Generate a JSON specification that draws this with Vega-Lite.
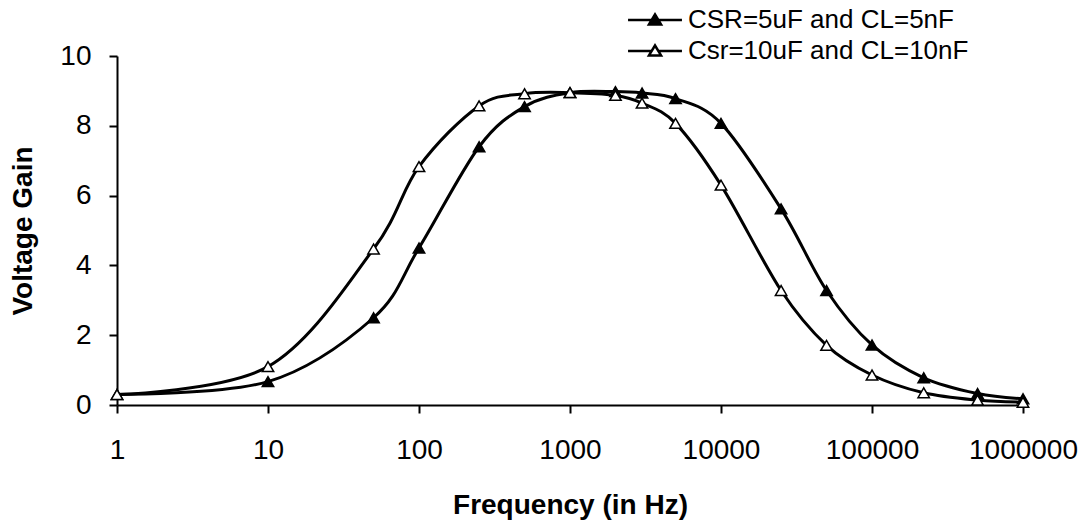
{
  "$schema": "https://vega.github.io/schema/vega-lite/v6.json",
  "width": 906,
  "height": 349,
  "autosize": "none",
  "padding": {"left": 117, "top": 56, "right": 61, "bottom": 115},
  "background": "white",
  "config": {
    "view": {"stroke": null},
    "font": "Liberation Sans",
    "axis": {
      "domainColor": "black",
      "domainWidth": 2,
      "tickColor": "black",
      "tickWidth": 2,
      "tickSize": 8,
      "grid": false,
      "labelColor": "black",
      "labelFont": "Liberation Sans",
      "labelFontSize": 28,
      "titleColor": "black",
      "titleFont": "Liberation Sans",
      "titleFontSize": 28,
      "titleFontWeight": "bold"
    }
  },
  "data": {
    "values": [
      {"freq": 1, "gain": 0.3, "series": "CSR=5uF and CL=5nF"},
      {"freq": 10, "gain": 0.67, "series": "CSR=5uF and CL=5nF"},
      {"freq": 50, "gain": 2.5, "series": "CSR=5uF and CL=5nF"},
      {"freq": 100, "gain": 4.5, "series": "CSR=5uF and CL=5nF"},
      {"freq": 250, "gain": 7.4, "series": "CSR=5uF and CL=5nF"},
      {"freq": 500, "gain": 8.55, "series": "CSR=5uF and CL=5nF"},
      {"freq": 1000, "gain": 8.95, "series": "CSR=5uF and CL=5nF"},
      {"freq": 2000, "gain": 8.98, "series": "CSR=5uF and CL=5nF"},
      {"freq": 3000, "gain": 8.94, "series": "CSR=5uF and CL=5nF"},
      {"freq": 5000, "gain": 8.78, "series": "CSR=5uF and CL=5nF"},
      {"freq": 10000, "gain": 8.07, "series": "CSR=5uF and CL=5nF"},
      {"freq": 25000, "gain": 5.62, "series": "CSR=5uF and CL=5nF"},
      {"freq": 50000, "gain": 3.28, "series": "CSR=5uF and CL=5nF"},
      {"freq": 100000, "gain": 1.72, "series": "CSR=5uF and CL=5nF"},
      {"freq": 220000, "gain": 0.78, "series": "CSR=5uF and CL=5nF"},
      {"freq": 500000, "gain": 0.33, "series": "CSR=5uF and CL=5nF"},
      {"freq": 1000000, "gain": 0.18, "series": "CSR=5uF and CL=5nF"},
      {"freq": 1, "gain": 0.3, "series": "Csr=10uF and CL=10nF"},
      {"freq": 10, "gain": 1.1, "series": "Csr=10uF and CL=10nF"},
      {"freq": 50, "gain": 4.47, "series": "Csr=10uF and CL=10nF"},
      {"freq": 100, "gain": 6.83, "series": "Csr=10uF and CL=10nF"},
      {"freq": 250, "gain": 8.57, "series": "Csr=10uF and CL=10nF"},
      {"freq": 500, "gain": 8.92, "series": "Csr=10uF and CL=10nF"},
      {"freq": 1000, "gain": 8.95, "series": "Csr=10uF and CL=10nF"},
      {"freq": 2000, "gain": 8.87, "series": "Csr=10uF and CL=10nF"},
      {"freq": 3000, "gain": 8.65, "series": "Csr=10uF and CL=10nF"},
      {"freq": 5000, "gain": 8.07, "series": "Csr=10uF and CL=10nF"},
      {"freq": 10000, "gain": 6.3, "series": "Csr=10uF and CL=10nF"},
      {"freq": 25000, "gain": 3.28, "series": "Csr=10uF and CL=10nF"},
      {"freq": 50000, "gain": 1.71, "series": "Csr=10uF and CL=10nF"},
      {"freq": 100000, "gain": 0.86, "series": "Csr=10uF and CL=10nF"},
      {"freq": 220000, "gain": 0.35, "series": "Csr=10uF and CL=10nF"},
      {"freq": 500000, "gain": 0.14, "series": "Csr=10uF and CL=10nF"},
      {"freq": 1000000, "gain": 0.08, "series": "Csr=10uF and CL=10nF"}
    ]
  },
  "encoding": {
    "x": {
      "field": "freq",
      "type": "quantitative",
      "scale": {"type": "log", "domain": [1, 1000000], "nice": false},
      "axis": {
        "title": "Frequency (in Hz)",
        "values": [1, 10, 100, 1000, 10000, 100000, 1000000],
        "format": "d",
        "labelPadding": 23,
        "labelFlush": false,
        "labelOverlap": false,
        "titleY": 108,
        "titleBaseline": "alphabetic"
      }
    },
    "y": {
      "field": "gain",
      "type": "quantitative",
      "scale": {"domain": [0, 10], "nice": false, "zero": true},
      "axis": {
        "title": "Voltage Gain",
        "values": [0, 2, 4, 6, 8, 10],
        "labelPadding": 18,
        "labelFlush": false,
        "titleX": -94,
        "titleBaseline": "middle"
      }
    }
  },
  "layer": [
    {
      "mark": {"type": "line", "interpolate": "cardinal", "color": "black", "strokeWidth": 3},
      "encoding": {"detail": {"field": "series", "type": "nominal"}}
    },
    {
      "mark": {"type": "point", "shape": "triangle-up", "size": 130, "filled": true, "stroke": "black", "strokeWidth": 1.5, "opacity": 1},
      "encoding": {
        "fill": {
          "field": "series",
          "type": "nominal",
          "scale": {"domain": ["CSR=5uF and CL=5nF", "Csr=10uF and CL=10nF"], "range": ["black", "white"]},
          "legend": {
            "orient": "none",
            "legendX": 525,
            "legendY": -49,
            "title": null,
            "padding": 0,
            "direction": "vertical",
            "symbolType": "M-4.9,0 L-0.6,0 M0.6,0 L4.9,0 M0,-1 L1.1,0.8 L-1.1,0.8 Z",
            "symbolSize": 121,
            "symbolStrokeColor": "black",
            "symbolStrokeWidth": 2.5,
            "symbolOpacity": 1,
            "labelFontSize": 26,
            "labelColor": "black",
            "labelFont": "Liberation Sans",
            "labelOffset": 20,
            "rowPadding": 5,
            "labelLimit": 400
          }
        }
      }
    }
  ]
}
